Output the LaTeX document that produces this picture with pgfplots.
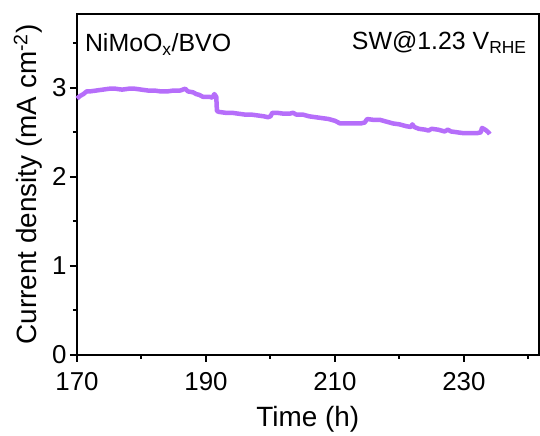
\documentclass[border=0pt]{standalone}
\usepackage{pgfplots}
\pgfplotsset{compat=1.18}
\usetikzlibrary{calc}
\usepackage{fontspec}
\setmainfont{Liberation Sans}
\definecolor{curve}{RGB}{182,110,250}
\begin{document}
\begin{tikzpicture}
\begin{axis}[
  name=ax,
  scale only axis,
  width=462bp, height=341bp,
  xmin=170, xmax=241.6, ymin=0, ymax=3.83,
  xtick={170,190,210,230},
  minor xtick={180,200,220,240},
  ytick={0,1,2,3},
  minor ytick={0.5,1.5,2.5,3.5},
  tick align=outside,
  major tick length=7bp, minor tick length=4bp,
  tick style={line width=2bp, black},
  axis line style={line width=2.5bp},
  xtick pos=bottom, ytick pos=left,
  /pgf/number format/assume math mode=true,
  ticklabel style={font=\fontsize{26}{30}\selectfont},
  label style={font=\fontsize{28}{32}\selectfont},
  xlabel={Time (h)},
  ylabel={Current density (mA cm\textsuperscript{-2})},
  xlabel style={yshift=-9bp},
  ylabel style={yshift=3bp},
  xticklabel style={yshift=-7bp},
  yticklabel style={xshift=0bp},
  clip=false,
]
\addplot[color=curve, line width=4.5bp, line join=round] coordinates {
(170.0,2.88) (170.5,2.91) (171.0,2.93) (171.5,2.96) (172.0,2.96) (173.0,2.97)
(174.0,2.98) (175.0,2.99) (176.0,2.99) (177.0,2.98) (178.0,2.99) (179.0,2.99)
(180.0,2.98) (181.0,2.97) (182.0,2.97) (183.0,2.96) (184.0,2.96) (185.0,2.97)
(186.0,2.97) (186.8,2.99) (187.2,2.96) (188.0,2.95) (188.5,2.93) (189.0,2.92)
(189.5,2.90) (190.0,2.90) (190.5,2.90) (191.0,2.89) (191.3,2.93) (191.6,2.90)
(191.7,2.74) (192.0,2.73) (193.0,2.72) (194.0,2.72) (195.0,2.71) (196.0,2.70)
(197.0,2.70) (198.0,2.69) (199.0,2.68) (199.6,2.67) (200.0,2.68) (200.3,2.72)
(201.0,2.72) (202.0,2.71) (203.0,2.71) (203.5,2.72) (204.0,2.70) (205.0,2.70)
(206.0,2.68) (207.0,2.67) (208.0,2.66) (209.0,2.65) (210.0,2.63) (210.8,2.60)
(212.0,2.60) (213.0,2.60) (214.0,2.60) (214.6,2.61) (215.0,2.65) (216.0,2.64)
(217.0,2.64) (218.0,2.62) (219.0,2.60) (220.0,2.59) (221.0,2.57) (221.8,2.56)
(222.0,2.59) (222.3,2.56) (223.0,2.54) (224.0,2.53) (224.5,2.52) (225.0,2.54)
(226.0,2.53) (227.0,2.51) (227.5,2.53) (228.0,2.51) (229.0,2.50) (230.0,2.49)
(231.0,2.49) (232.0,2.49) (232.6,2.50) (232.8,2.55) (233.3,2.53) (233.8,2.50)
(234.0,2.48)
};
\node[anchor=base west, font=\fontsize{25}{29}\selectfont, inner sep=0pt] at (rel axis cs:0.017,0.89) {NiMoO\textsubscript{x}/BVO};
\node[anchor=base east, font=\fontsize{25}{29}\selectfont, inner sep=0pt] at (rel axis cs:0.974,0.895) {SW@1.23 V\textsubscript{RHE}};
\end{axis}
\useasboundingbox ($(ax.south west)+(-77bp,-70bp)$) rectangle ($(ax.north east)+(1bp,14bp)$);
\end{tikzpicture}
\end{document}
